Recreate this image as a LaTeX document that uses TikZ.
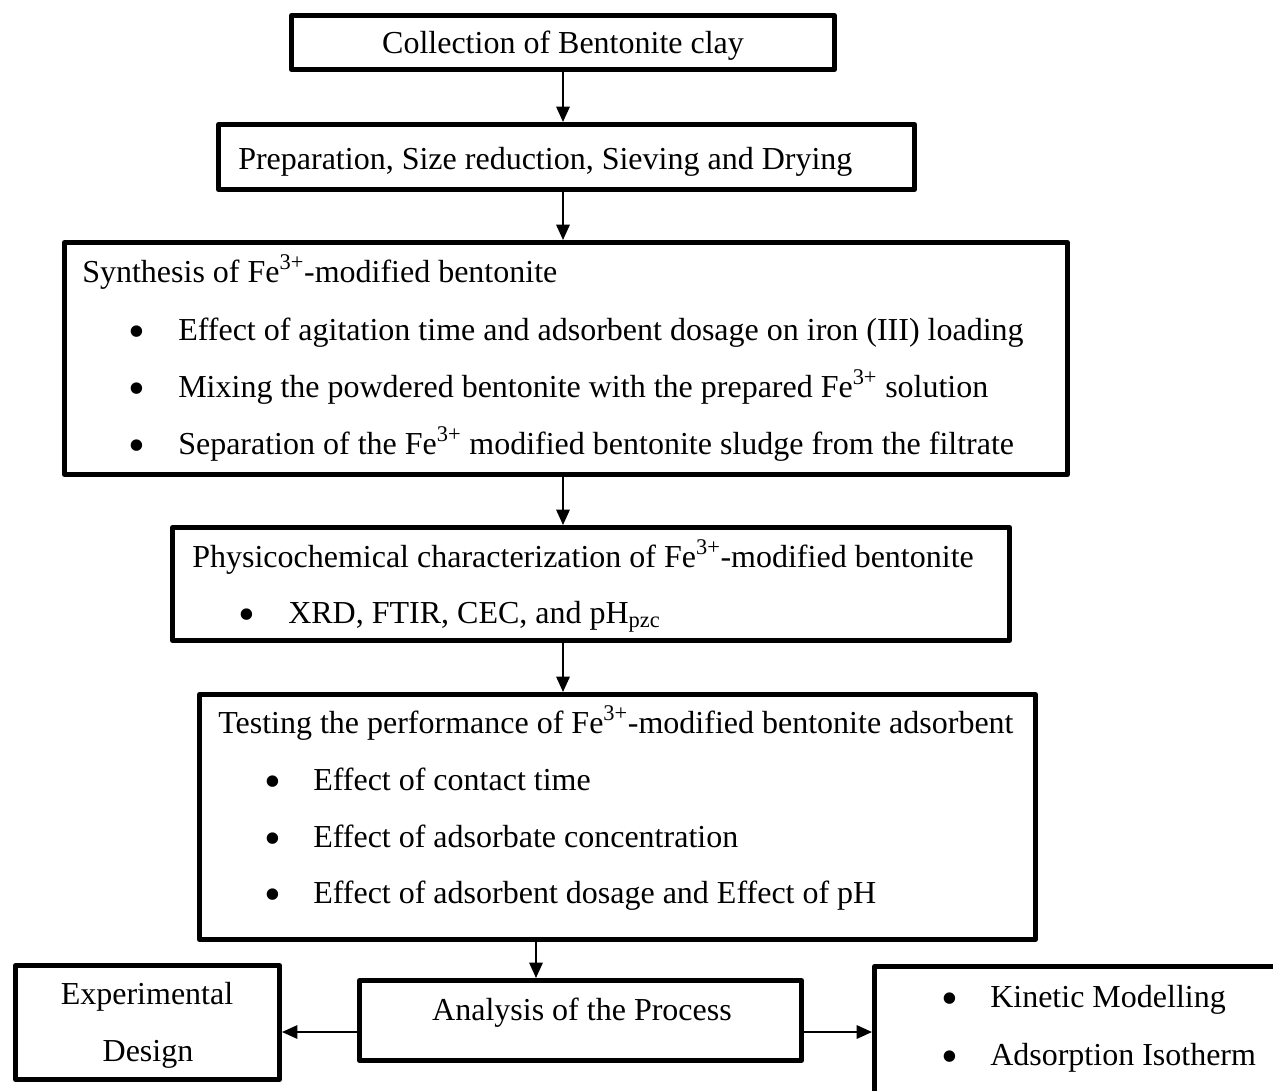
\documentclass[tikz,border=0pt]{standalone}
\usepackage{fontspec}
\usepackage{graphicx}
\setmainfont{Liberation Serif}
\usetikzlibrary{arrows.meta}
\newcommand{\bigbul}{\raisebox{-5.6pt}{\scalebox{1.5}{\textbullet}}}
\begin{document}
\begin{tikzpicture}[x=0.75pt,y=-0.75pt,
  stepbox/.style={draw=black,line width=3.75pt,line join=round,inner sep=0pt},
  txt/.style={inner sep=0pt,anchor=base west,font=\fontsize{24}{28}\selectfont},
  ctxt/.style={txt,anchor=base},
  arr/.style={line width=1.5pt,-{Triangle[length=11.5pt,width=10pt]}}]
\useasboundingbox (0,0) rectangle (1273,1090);
\begin{scope}
\clip (0,0) rectangle (1273,1090);
% boxes
\node[stepbox,minimum width=407.25pt,minimum height=40.5pt] (B1) at (563,42.5) {};
\node[stepbox,minimum width=522pt,minimum height=48.75pt] (B2) at (566.5,157) {};
\node[stepbox,minimum width=752.25pt,minimum height=174pt] (B3) at (566,358.5) {};
\node[stepbox,minimum width=627.75pt,minimum height=84.75pt] (B4) at (591,584) {};
\node[stepbox,minimum width=627pt,minimum height=183.75pt] (B5) at (617.5,817) {};
\node[stepbox,minimum width=331.5pt,minimum height=60pt] (B6) at (580.5,1020.5) {};
\node[stepbox,minimum width=198pt,minimum height=85.5pt] (B7) at (147.5,1022.5) {};
\node[stepbox,minimum width=319.1pt,minimum height=115.1pt] (B8) at (1087.25,1043.25) {};
% texts
\node[ctxt] (t1) at (563,53) {Collection of Bentonite clay};
\node[txt] (t2) at (238,169) {Preparation, Size reduction, Sieving and Drying};
\node[txt] (t3) at (82,282) {Synthesis of Fe\textsuperscript{3+}-modified bentonite};
\node[ctxt] (b31) at (137,340) {\bigbul};
\node[txt] (t31) at (178,340) {Effect of agitation time and adsorbent dosage on iron (III) loading};
\node[ctxt] (b32) at (137,397) {\bigbul};
\node[txt] (t32) at (178,397) {Mixing the powdered bentonite with the prepared Fe\textsuperscript{3+} solution};
\node[ctxt] (b33) at (137,454) {\bigbul};
\node[txt] (t33) at (178,454) {Separation of the Fe\textsuperscript{3+} modified bentonite sludge from the filtrate};
\node[txt] (t4) at (192,567) {Physicochemical characterization of Fe\textsuperscript{3+}-modified bentonite};
\node[ctxt] (b41) at (247,623) {\bigbul};
\node[txt] (t41) at (288,623) {XRD, FTIR, CEC, and pH\textsubscript{pzc}};
\node[txt] (t5) at (218,733) {Testing the performance of Fe\textsuperscript{3+}-modified bentonite adsorbent};
\node[ctxt] (b51) at (273,790) {\bigbul};
\node[txt] (t51) at (313,790) {Effect of contact time};
\node[ctxt] (b52) at (273,847) {\bigbul};
\node[txt] (t52) at (313,847) {Effect of adsorbate concentration};
\node[ctxt] (b53) at (273,903) {\bigbul};
\node[txt] (t53) at (313,903) {Effect of adsorbent dosage and Effect of pH};
\node[ctxt] (t6) at (582,1020) {Analysis of the Process};
\node[ctxt] (t71) at (147,1004) {Experimental};
\node[ctxt] (t72) at (148,1061) {Design};
\node[ctxt] (b81) at (950,1007) {\bigbul};
\node[txt] (t81) at (990,1007) {Kinetic Modelling};
\node[ctxt] (b82) at (950,1065) {\bigbul};
\node[txt] (t82) at (990,1065) {Adsorption Isotherm};
% connectors
\coordinate (ax) at (563,0);
\coordinate (bx) at (536,0);
\coordinate (hy) at (0,1032);
\draw[arr] (B1.south -| ax) -- (B2.north -| ax);
\draw[arr] (B2.south -| ax) -- (B3.north -| ax);
\draw[arr] (B3.south -| ax) -- (B4.north -| ax);
\draw[arr] (B4.south -| ax) -- (B5.north -| ax);
\draw[arr] (B5.south -| bx) -- (B6.north -| bx);
\draw[arr] (B6.west |- hy) -- (B7.east |- hy);
\draw[arr] (B6.east |- hy) -- (B8.west |- hy);
\end{scope}
\end{tikzpicture}
\end{document}
